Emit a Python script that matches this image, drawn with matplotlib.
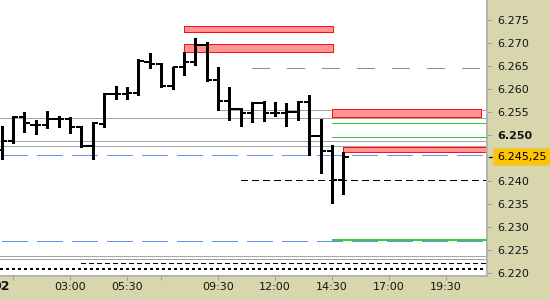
import matplotlib
matplotlib.use("Agg")
import matplotlib.pyplot as plt
import matplotlib.transforms as mtransforms
from matplotlib.patches import Rectangle
from matplotlib.lines import Line2D
import numpy as np

plt.rcParams['lines.scale_dashes'] = False
plt.rcParams['font.family'] = ['DejaVu Sans']

DPI = 100
PX = 72.0 / DPI  # points per pixel

# ---------------- data ----------------
bar_idx = list(range(31))  # 30-minute bars starting 00:00
opens = [6.24674, 6.24859, 6.25402, 6.25218, 6.25207, 6.25348, 6.25348, 6.25181,
         6.24761, 6.25239, 6.25902, 6.25881, 6.25924, 6.26598, 6.26543, 6.26065,
         6.26472, 6.26594, 6.26946, 6.26196, 6.25746, 6.25555, 6.25485, 6.25696,
         6.25489, 6.25472, 6.25500, 6.25724, 6.24977, 6.24652, 6.24022]
highs = [6.25196, 6.25413, 6.25507, 6.25326, 6.25522, 6.25413, 6.25385, 6.25196,
         6.25289, 6.25920, 6.26076, 6.26054, 6.26646, 6.26789, 6.26572, 6.26485,
         6.26811, 6.27102, 6.27029, 6.26472, 6.26037, 6.25581, 6.25707, 6.25739,
         6.25724, 6.25703, 6.25746, 6.25870, 6.25341, 6.24783, 6.24635]
lows = [6.24472, 6.24833, 6.25072, 6.25022, 6.25146, 6.25181, 6.25050, 6.24739,
        6.24472, 6.25181, 6.25772, 6.25772, 6.25870, 6.26450, 6.26037, 6.25994,
        6.26315, 6.26522, 6.26174, 6.25544, 6.25316, 6.25203, 6.25283, 6.25311,
        6.25413, 6.25196, 6.25326, 6.24565, 6.24181, 6.23529, 6.23707]
closes = [6.24859, 6.25402, 6.25268, 6.25218, 6.25348, 6.25348, 6.25181, 6.24761,
          6.25254, 6.25892, 6.25881, 6.25924, 6.26609, 6.26543, 6.26065, 6.26472,
          6.26594, 6.26946, 6.26196, 6.25746, 6.25555, 6.25485, 6.25696, 6.25489,
          6.25472, 6.25500, 6.25724, 6.24977, 6.24652, 6.24022, 6.24525]
last_price = 6.24525
last_label = "6.245,25"

zone_lo = [6.27233, 6.26811, 6.25385, 6.24620]
zone_hi = [6.27370, 6.26971, 6.25559, 6.24746]
zone_from = [16.0, 16.0, 29.0, 30.0]
zone_to = [29.1, 29.1, 42.05, 46.0]

gray_levels = [6.25544, 6.25370, 6.24863, 6.24754, 6.22359, 6.22311]
gray_from = [19.0, None, None, None, None, None]
gray_dash_level = 6.26450
gray_dash_from = 22.0
blue_dash_levels = [6.24560, 6.22697]
black_dash_levels = [6.24022, 6.22211]
black_dash_from = [21.0, 7.0]
black_dot_level = 6.22077
green_levels = [6.25268, 6.24963, 6.22717]
green_from = 29.0

y_ticks = [6.220, 6.225, 6.230, 6.235, 6.240, 6.250, 6.255, 6.260, 6.265, 6.270, 6.275]
x_ticks = [6, 11, 19, 24, 29, 34, 39]
x_labels = ["03:00", "05:30", "09:30", "12:00", "14:30", "17:00", "19:30"]
x_minor = [1, 14]
date_label = "02"

# ---------------- figure ----------------
PANEL = '#D8D6AC'
fig = plt.figure(figsize=(5.5, 3.0), dpi=DPI, facecolor=PANEL)
ax = fig.add_axes([0, 24 / 300, 487 / 550, 276 / 300])
ax.set_facecolor('white')
XMAX = 42.61
ax.set_xlim(-0.144, XMAX)
ax.set_ylim(6.21935, 6.27935)

AA = False

# zones
for lo, hi, x0, x1 in zip(zone_lo, zone_hi, zone_from, zone_to):
    ax.add_patch(Rectangle((x0, lo), x1 - x0, hi - lo, facecolor='#FF9494',
                           edgecolor='#FF1010', lw=1.0 * PX, zorder=2, antialiased=AA))

# gray solid lines
for lvl, x0 in zip(gray_levels, gray_from):
    ax.hlines(lvl, -1 if x0 is None else x0, XMAX + 1, colors='#A4A4A4', lw=1.0 * PX,
              zorder=1, antialiaseds=AA)

# gray dashed
ax.hlines(gray_dash_level, gray_dash_from, XMAX + 1, colors='#8C8C8C', lw=1.0 * PX,
          linestyles=[(0, (18 * PX, 17 * PX))], zorder=1, antialiaseds=AA)

# blue dashed
for lvl in blue_dash_levels:
    ax.axhline(lvl, color='#6495ED', lw=1.0 * PX, ls=(33.3 * PX, (25 * PX, 10 * PX)),
               zorder=1, antialiased=AA)

# green
for k, lvl in enumerate(green_levels):
    ax.hlines(lvl, green_from, XMAX + 1, colors='#33CC33', lw=(2.0 if k == 2 else 1.0) * PX,
              zorder=3, antialiaseds=AA)

# black dashed
ax.hlines(black_dash_levels[0], black_dash_from[0], XMAX + 1, colors='black', lw=1.0 * PX,
          linestyles=[(0, (6 * PX, 4.5 * PX))], zorder=1, antialiaseds=AA)
ax.hlines(black_dash_levels[1], black_dash_from[1], XMAX + 1, colors='black', lw=1.0 * PX,
          linestyles=[(0, (5 * PX, 4 * PX))], zorder=1, antialiaseds=AA)
# black dotted
ax.axhline(black_dot_level, color='black', lw=2.0 * PX, ls=(0, (2.5 * PX, 3.5 * PX)),
           zorder=1, antialiased=AA)

# OHLC bars
idx = np.array(bar_idx, dtype=float)
ax.vlines(idx, lows, highs, colors='black', lw=3.0 * PX, zorder=6, capstyle='butt',
          antialiaseds=AA)
ax.hlines(opens, idx - 0.47, idx, colors='black', lw=2.0 * PX, zorder=6, capstyle='butt',
          antialiaseds=AA)
ax.hlines(closes, idx, idx + 0.47, colors='black', lw=2.0 * PX, zorder=6, capstyle='butt',
          antialiaseds=AA)

# spines
for s in ['left', 'top']:
    ax.spines[s].set_visible(False)
for s in ['right', 'bottom']:
    ax.spines[s].set_color('#B4B4B4')
    ax.spines[s].set_linewidth(2 * PX)

# y axis on right
ax.yaxis.tick_right()
ax.set_yticks(y_ticks)
ax.set_yticklabels([f"{t:.3f}" for t in y_ticks])
ax.tick_params(axis='y', direction='out', length=4 * PX, width=1 * PX, color='#9A9A9A',
               pad=6 * PX, labelsize=8, labelcolor='#141414')
for lab in ax.get_yticklabels():
    if lab.get_text() == "6.250":
        lab.set_fontweight('bold')

# x axis
ax.set_xticks(x_ticks)
ax.set_xticklabels(x_labels)
ax.set_xticks(x_minor, minor=True)
ax.tick_params(axis='x', which='both', direction='out', length=4 * PX, width=1 * PX,
               color='#9A9A9A', pad=2 * PX, labelsize=8, labelcolor='#141414')

# clipped top label
blend = mtransforms.blended_transform_factory(ax.transAxes, ax.transData)
ax.text(1.0 + 10 / 487, 6.280, "6.280", transform=blend, fontsize=8, va='center', ha='left',
        color='#141414', clip_on=False)

# last price tick + label
ax.add_line(Line2D([1.0 + 2 / 487, 1.0 + 6 / 487], [last_price, last_price], transform=blend,
                   color='black', lw=1.2 * PX, clip_on=False))
ax.text(1.0 + 10 / 487, last_price, last_label, transform=blend, fontsize=8, va='center',
        ha='left', color='black', clip_on=False,
        bbox=dict(boxstyle='square,pad=0.32', fc='#FFC400', ec='#E2C868', lw=1.0))

# date label at left (cut off)
fig.text(9.5 / 550, 1 - 287 / 300, date_label, ha='right', va='center', fontsize=9,
         fontweight='bold', color='#141414')

fig.savefig("out.png", dpi=DPI, facecolor=PANEL)
